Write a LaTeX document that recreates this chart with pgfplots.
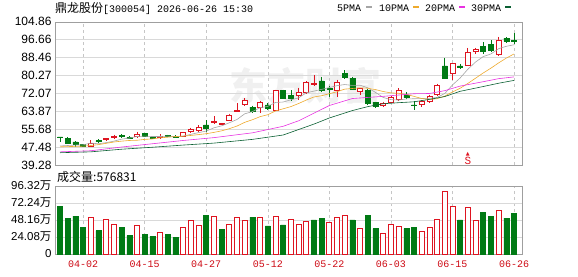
\documentclass[border=0pt]{standalone}
\usepackage{fontspec}
\setmainfont{Liberation Sans}
\newfontfamily\cjk{Noto Sans CJK SC}
\newfontfamily\mono{Liberation Mono}
\newfontfamily\dejavu{DejaVu Sans}
\usepackage{pgfplots}
\usepackage{pgfplotstable}
\pgfplotsset{compat=1.18}
\definecolor{kred}{RGB}{222,20,32}
\definecolor{kgreen}{RGB}{0,122,20}
\definecolor{dred}{RGB}{205,10,20}
\definecolor{ma5}{RGB}{165,165,165}
\definecolor{ma10}{RGB}{238,170,45}
\definecolor{ma20}{RGB}{232,50,225}
\definecolor{ma30}{RGB}{10,95,50}

\pgfplotstableread{
x o h l c
5 47.7 50.5 47.3 49.2
7 51.0 51.6 50.2 51.6
8 51.8 53.2 51.2 52.5
11 52.2 54.5 51.8 53.3
14 51.9 53.3 51.0 52.6
17 52.5 54.4 52.2 54.0
18 54.9 56.4 53.8 55.4
19 55.0 57.5 54.6 56.5
21 58.7 61.6 58.2 59.3
22 57.9 58.5 57.4 58.3
23 59.9 62.8 59.6 62.2
24 64.0 67.5 63.6 64.4
25 67.2 69.9 66.2 69.0
27 65.7 68.6 63.1 68.0
29 64.2 73.8 63.8 73.3
32 71.2 74.7 68.9 72.6
33 72.3 77.7 71.9 77.0
34 76.3 80.3 75.4 76.8
37 73.6 78.3 70.4 77.0
40 73.2 74.4 71.2 74.2
43 66.6 68.3 66.0 67.7
44 67.9 71.0 67.5 70.2
45 69.4 74.5 68.4 73.4
48 67.0 68.8 65.8 68.3
49 68.2 71.5 67.8 70.8
50 71.6 76.5 71.0 75.6
52 81.2 85.9 78.3 85.8
54 85.0 92.9 84.6 90.8
55 91.3 92.9 90.3 92.3
58 89.9 97.9 89.1 96.5
}\candlesUp

\pgfplotstableread{
x o h l c
1 52.2 52.2 50.0 52.0
2 51.4 52.2 48.9 49.2
3 49.9 50.2 47.6 48.8
4 48.7 49.0 47.3 47.8
6 50.4 51.0 49.4 50.0
9 52.8 53.4 51.8 52.3
10 52.0 52.5 51.2 51.7
12 53.6 54.0 52.0 52.5
13 51.8 52.0 51.0 51.5
15 52.7 53.2 51.9 52.4
16 52.4 52.9 51.7 52.1
20 57.6 59.8 54.5 56.1
26 65.8 66.5 63.2 64.0
28 66.8 67.5 64.5 65.2
30 73.4 73.8 69.4 69.6
31 71.2 73.5 68.6 69.8
35 77.8 79.4 72.7 73.7
36 74.4 75.3 70.4 74.0
38 81.2 82.6 78.8 79.6
39 79.0 79.6 73.8 74.1
41 73.6 74.0 66.8 67.6
42 68.0 68.3 65.2 66.0
46 71.4 72.5 69.5 70.1
47 66.8 68.4 64.3 66.4
51 84.6 88.3 78.5 79.0
53 84.6 85.6 83.0 84.2
56 93.4 95.4 90.2 91.3
57 94.6 96.3 91.0 91.8
59 97.4 97.7 94.9 95.9
60 96.2 99.5 94.7 95.8
}\candlesDown

\pgfplotstableread{
x v
5 51.8
7 49.1
8 42.7
11 39.9
14 30.3
17 37.2
18 48.2
19 39.9
21 53.7
23 42.7
24 51.8
25 48.2
27 52.3
29 53.7
31 49.1
32 41.3
33 46.8
36 45.4
37 52.3
38 55.0
40 35.8
43 28.9
44 42.7
45 38.5
48 31.6
49 37.2
50 49.5
51 88.1
52 67.4
54 66.1
55 48.2
58 61.9
}\volUp

\pgfplotstableread{
x v
1 67.9
2 50.9
3 53.7
4 37.2
6 33.0
9 37.2
10 26.1
12 27.5
13 24.8
15 27.5
16 23.4
20 55.0
22 34.4
26 52.3
28 39.9
30 41.3
34 48.2
35 50.9
39 48.2
41 55.0
42 35.8
46 35.8
47 37.2
53 48.2
56 59.2
57 53.7
59 50.9
60 57.68
}\volDown

\pgfplotsset{
  pgeom/.style={scale only axis, width=467pt, height=143.3pt,
    xmin=0.35, xmax=61.04, ymin=39.28, ymax=104.86,
    at={(55pt,111pt)}, anchor=south west},
  vgeom/.style={scale only axis, width=467pt, height=68pt,
    xmin=0.35, xmax=61.04, ymin=0, ymax=96.32,
    at={(55pt,22pt)}, anchor=south west},
}

\begin{document}
\begin{tikzpicture}
\path[use as bounding box] (0,0) rectangle (578pt,276pt);

% title and legend
\node[anchor=west, inner sep=0pt] at (55pt,267.5pt)
  {{\cjk\fontsize{12}{12}\selectfont 鼎龙股份}{\mono\fontsize{10}{10}\selectfont[300054] 2026-06-26 15:30}};
\node[anchor=west, inner sep=0pt, font=\mono\fontsize{10}{10}\selectfont] at (337pt,268pt) {5PMA};
\fill[ma5] (366pt,267.6pt) rectangle (371.5pt,270pt);
\node[anchor=west, inner sep=0pt, font=\mono\fontsize{10}{10}\selectfont] at (379pt,268pt) {10PMA};
\fill[ma10] (413pt,267.6pt) rectangle (418.5pt,270pt);
\node[anchor=west, inner sep=0pt, font=\mono\fontsize{10}{10}\selectfont] at (425pt,268pt) {20PMA};
\fill[ma20] (459pt,267.6pt) rectangle (464.5pt,270pt);
\node[anchor=west, inner sep=0pt, font=\mono\fontsize{10}{10}\selectfont] at (471pt,268pt) {30PMA};
\fill[ma30] (505pt,267.6pt) rectangle (510.5pt,270pt);

% faint watermark
\node[text=black!6, font=\cjk\fontsize{38}{38}\selectfont\bfseries] at (305pt,190pt) {东方财富};

% price panel: frame, grid, wicks
\begin{axis}[pgeom,
  axis line style={gray!75}, tick style={draw=none},
  xtick={4,12,20,28,36,44,52,60}, xticklabels={},
  ytick={39.28,47.48,55.68,63.87,72.07,80.27,88.46,96.66,104.86},
  yticklabels={39.28,47.48,55.68,63.87,72.07,80.27,88.46,96.66,104.86},
  /pgf/number format/assume math mode=true,
  yticklabel style={font=\fontsize{12}{12}\selectfont},
  xmajorgrids, ymajorgrids,
  x grid style={gray!45, dash pattern=on 3pt off 3pt},
  y grid style={gray!30}]
\addplot[draw=none, forget plot, error bars/.cd, y dir=minus, y explicit,
  error mark=none, error bar style={draw=kred, solid, line width=0.7pt}]
  table[x=x, y=h, y error minus expr=\thisrow{h}-\thisrow{l}] {\candlesUp};
\addplot[draw=none, forget plot, error bars/.cd, y dir=minus, y explicit,
  error mark=none, error bar style={draw=kgreen, solid, line width=0.7pt}]
  table[x=x, y=h, y error minus expr=\thisrow{h}-\thisrow{l}] {\candlesDown};
\node[anchor=south, inner sep=0pt, text=kred, align=center,
  font=\mono\fontsize{11}{11}\selectfont] at (axis cs:54,39.5)
  {{\dejavu\fontsize{5}{5}\selectfont ▲}\\[-2pt]S};
\end{axis}

% rising bodies
\begin{axis}[pgeom, hide axis, ybar stacked, bar width=5pt]
\addplot[draw=none, fill=none] table[x=x, y=o] {\candlesUp};
\addplot[draw=kred, fill=white, line width=0.7pt] table[x=x, y expr=\thisrow{c}-\thisrow{o}] {\candlesUp};
\end{axis}

% falling bodies
\begin{axis}[pgeom, hide axis, ybar stacked, bar width=5pt]
\addplot[draw=none, fill=none] table[x=x, y=c] {\candlesDown};
\addplot[draw=kgreen, fill=kgreen, line width=0.5pt] table[x=x, y expr=\thisrow{o}-\thisrow{c}] {\candlesDown};
\end{axis}

% moving averages
\begin{axis}[pgeom, hide axis]
\addplot[ma5, line width=0.6pt] coordinates {
(1,48.0)(2,48.2)(3,48.4)(4,48.5)(5,49.3)(6,49.0)(7,49.5)(8,50.2)(9,51.1)(10,51.6)
(11,52.3)(12,52.5)(13,52.3)(14,52.3)(15,52.5)(16,52.2)(17,52.5)(18,53.3)(19,54.1)(20,54.8)
(21,56.3)(22,57.2)(23,58.6)(24,60.1)(25,62.7)(26,63.7)(27,65.5)(28,66.1)(29,67.9)(30,68.1)
(31,69.1)(32,70.0)(33,72.3)(34,73.1)(35,73.9)(36,74.7)(37,75.6)(38,76.1)(39,75.7)(40,75.8)
(41,74.6)(42,72.5)(43,70.2)(44,69.2)(45,69.0)(46,69.5)(47,69.6)(48,69.7)(49,69.8)(50,70.2)
(51,72.0)(52,75.9)(53,79.1)(54,83.1)(55,86.4)(56,88.9)(57,90.1)(58,92.5)(59,93.6)(60,94.3)};
\addplot[ma10, line width=0.6pt] coordinates {
(1,47.6)(2,47.7)(3,47.8)(4,47.9)(5,48.2)(6,48.6)(7,49.2)(8,49.8)(9,50.2)(10,50.5)
(11,50.6)(12,51.0)(13,51.2)(14,51.7)(15,52.0)(16,52.3)(17,52.5)(18,52.8)(19,53.2)(20,53.6)
(21,54.2)(22,54.9)(23,55.9)(24,57.1)(25,58.8)(26,60.0)(27,61.4)(28,62.3)(29,64.0)(30,65.0)
(31,66.0)(32,67.4)(33,69.0)(34,70.4)(35,71.0)(36,71.9)(37,72.8)(38,74.0)(39,74.3)(40,74.6)
(41,74.4)(42,73.8)(43,72.9)(44,72.3)(45,72.1)(46,71.6)(47,70.7)(48,69.7)(49,69.3)(50,69.6)
(51,70.8)(52,72.7)(53,74.4)(54,76.6)(55,79.0)(56,81.4)(57,83.6)(58,86.0)(59,88.2)(60,90.1)};
\addplot[ma20, line width=0.6pt] coordinates {
(1,45.3)(5,45.8)(9,47.5)(13,49.0)(17,50.5)(21,51.8)(26,54.0)(30,57.0)(32,59.5)(34,63.0)
(36,66.5)(39,69.7)(43,70.7)(47,71.9)(49,72.0)(51,73.3)(53,75.4)(56,77.4)(58,78.8)(60,79.6)};
\addplot[ma30, line width=0.6pt] coordinates {
(1,44.9)(5,45.3)(9,46.5)(13,47.4)(17,48.4)(21,49.3)(26,51.0)(30,53.0)(32,55.5)(34,58.0)
(36,60.8)(39,64.2)(41,66.0)(43,67.3)(45,67.8)(47,68.2)(49,69.3)(51,70.6)(53,73.0)(56,75.2)
(58,76.7)(60,78.0)};
\end{axis}

% volume panel
\node[anchor=west, inner sep=0pt] at (57pt,99pt)
  {\cjk\fontsize{12}{12}\selectfont 成交量:576831};
\begin{axis}[vgeom,
  axis line style={gray!75}, tick style={draw=none},
  xtick={4,12,20,28,36,44,52,60},
  xticklabels={04-02,04-15,04-27,05-12,05-22,06-03,06-15,06-26},
  xticklabel style={font=\mono\fontsize{10}{10}\selectfont, text=dred, yshift=-3pt},
  ytick={0,24.08,48.16,72.24,96.32},
  yticklabels={0,24.08{\cjk 万},48.16{\cjk 万},72.24{\cjk 万},96.32{\cjk 万}},
  /pgf/number format/assume math mode=true,
  yticklabel style={font=\fontsize{11.5}{11.5}\selectfont},
  xmajorgrids, ymajorgrids,
  x grid style={gray!45, dash pattern=on 3pt off 3pt},
  y grid style={gray!30}]
\addplot[ybar, bar width=5pt, bar shift=0pt, draw=kred, fill=white, line width=0.7pt]
  table[x=x, y=v] {\volUp};
\addplot[ybar, bar width=5pt, bar shift=0pt, draw=kgreen, fill=kgreen, line width=0.5pt]
  table[x=x, y=v] {\volDown};
\end{axis}
\end{tikzpicture}
\end{document}
